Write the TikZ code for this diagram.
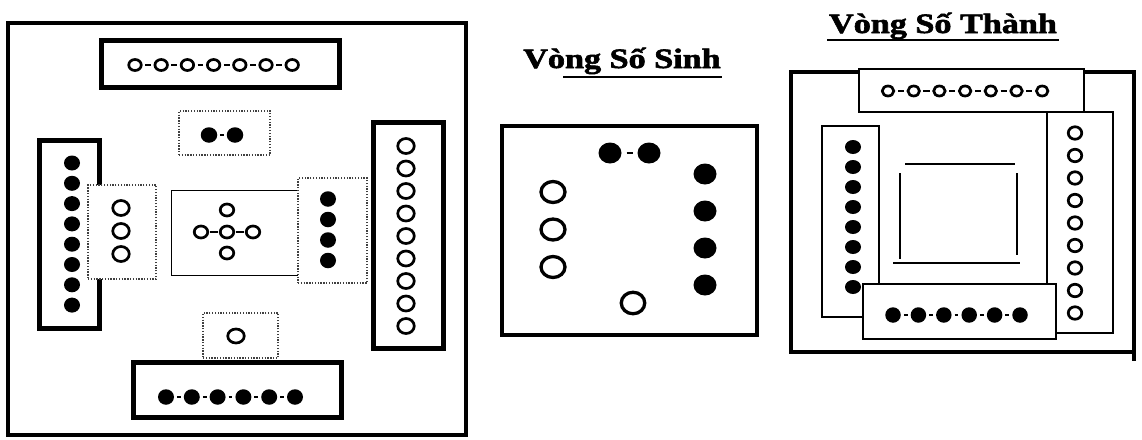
\documentclass[tikz,border=0pt]{standalone}
\usepackage{fontspec}
\usetikzlibrary{shapes.geometric}
\setmainfont{Liberation Serif}
\newfontfamily\heavyfont[BoldFeatures={FakeBold=2}]{Liberation Serif}
\begin{document}
\begin{tikzpicture}[x=1pt,y=-1pt,
  thickbox/.style={draw, line width=5pt, fill=white, inner sep=0pt, outer sep=0pt},
  framebox/.style={draw, line width=4.3pt, inner sep=0pt, outer sep=0pt},
  thinbox/.style={draw, line width=1.4pt, fill=white, inner sep=0pt, outer sep=0pt},
  dotbox/.style={draw=black!75, line width=1.4pt, dash pattern=on 1.3pt off 1.5pt, fill=white, inner sep=0pt, outer sep=0pt},
  ocirc/.style 2 args={ellipse, draw, line width=2.7pt, inner sep=0pt, outer sep=0pt, minimum width=#1, minimum height=#2},
  bcirc/.style 2 args={ellipse, draw, line width=3.3pt, inner sep=0pt, outer sep=0pt, minimum width=#1, minimum height=#2},
  fdot/.style 2 args={ellipse, fill=black, inner sep=0pt, outer sep=0pt, minimum width=#1, minimum height=#2},
  link/.style={line width=1.8pt, shorten <=4.5pt, shorten >=4.5pt},
  ttl/.style={anchor=base, inner sep=0pt, font=\heavyfont\bfseries\fontsize{28}{30}\selectfont},
  uline/.style={line width=2.2pt},
  sketch/.style={line width=1.8pt}]
\useasboundingbox (0,0) rectangle (1142,439);

% ================= LEFT PANEL =================
\node[framebox, minimum width=458, minimum height=412] (frameL) at (237,229) {};
% top box
\node[thickbox, minimum width=238, minimum height=47] (topL) at (220,63.5) {};
\foreach \i in {0,...,6} \node[ocirc={12.5}{11}] (a\i) at ({135+26.2*\i},65) {};
\foreach \i [count=\j from 1] in {0,...,5} \draw[link, shorten <=4pt, shorten >=4pt] (a\i) -- (a\j);
% left tall box
\node[thickbox, minimum width=60, minimum height=188] (leftL) at (69,234) {};
\foreach \i in {0,...,7} \node[fdot={16}{15}] (b\i) at (72,{163+20.3*\i}) {};
% dotted left-middle box
\node[dotbox, minimum width=68, minimum height=94] (dotLeft) at (122,232) {};
\foreach \i in {0,...,2} \node[ocirc={16.5}{15}] (c\i) at (121,{208+23*\i}) {};
% center box
\node[thinbox, line width=1pt, minimum width=127, minimum height=85] (centerL) at (234.5,232.5) {};
\node[ocirc={13.5}{12}] (xc) at (227,232) {};
\node[ocirc={13.5}{12}] (xt) at (227,210) {};
\node[ocirc={13.5}{12}] (xb) at (227,253) {};
\node[ocirc={13.5}{12}] (xl) at (201,232) {};
\node[ocirc={13.5}{12}] (xr) at (253,232) {};
\draw[link, shorten <=2pt, shorten >=2pt] (xl) -- (xc);
\draw[link, shorten <=2pt, shorten >=2pt] (xc) -- (xr);
% dotted right-middle box
\node[dotbox, minimum width=69, minimum height=105] (dotRight) at (332.5,230.5) {};
\foreach \i in {0,...,3} \node[fdot={16}{15.5}] (d\i) at (328,{199+20.5*\i}) {};
% right tall box
\node[thickbox, minimum width=70, minimum height=226] (rightL) at (408,235) {};
\foreach \i in {0,...,8} \node[ocirc={16.5}{15}] (e\i) at (406,{146+22.5*\i}) {};
% dotted top box
\node[dotbox, minimum width=91, minimum height=44] (dotTop) at (224.5,133) {};
\node[fdot={16.5}{15.5}] (f0) at (209,135) {};
\node[fdot={16.5}{15.5}] (f1) at (235,135) {};
\draw[link, shorten <=2.5pt, shorten >=2.5pt] (f0) -- (f1);
% dotted bottom box
\node[dotbox, minimum width=75, minimum height=45] (dotBot) at (240.5,335.5) {};
\node[ocirc={16.5}{14}] (g0) at (236,336) {};
% bottom box
\node[thickbox, minimum width=208, minimum height=55] (botL) at (237,389.5) {};
\foreach \i in {0,...,5} \node[fdot={16}{15.5}] (h\i) at ({166+25.8*\i},397) {};
\foreach \i [count=\j from 1] in {0,...,4} \draw[link, shorten <=3pt, shorten >=3pt] (h\i) -- (h\j);

% ================= MIDDLE PANEL =================
\node[ttl] (titleM) at (622,68) {\scalebox{1.22}[1]{Vòng Số Sinh}};
\coordinate (uMa) at (563,77);
\coordinate (uMb) at (722,77);
\draw[uline] (uMa) -- (uMb);
\node[framebox, fill=white, minimum width=255, minimum height=209] (boxM) at (629.5,230.5) {};
\node[fdot={23}{21}] (m0) at (610,153) {};
\node[fdot={23}{21}] (m1) at (649,153) {};
\draw[link, shorten <=5pt, shorten >=5pt] (m0) -- (m1);
\foreach \i in {0,...,2} \node[bcirc={24}{21}] (n\i) at (553,{192+37.5*\i}) {};
\foreach \i in {0,...,3} \node[fdot={23}{21}] (p\i) at (705,{174+37*\i}) {};
\node[bcirc={23.5}{21.5}] (q0) at (633,303) {};

% ================= RIGHT PANEL =================
\node[ttl] (titleR) at (943,33) {\scalebox{1.22}[1]{Vòng Số Thành}};
\coordinate (uRa) at (827,40);
\coordinate (uRb) at (1059,40);
\draw[uline] (uRa) -- (uRb);
\node[framebox, fill=white, minimum width=343, minimum height=280] (frameR) at (962.5,212) {};
\coordinate (tailA) at (1134,350);
\coordinate (tailB) at (1134,361);
\draw[line width=4.3pt] (tailA) -- (tailB);
% top box
\node[thinbox, minimum width=225, minimum height=43] (topR) at (971.5,90.5) {};
\foreach \i in {0,...,6} \node[ocirc={11.5}{10}] (r\i) at ({888+25.7*\i},91) {};
\foreach \i [count=\j from 1] in {0,...,5} \draw[link, shorten <=4pt, shorten >=4pt] (r\i) -- (r\j);
% right box
\node[thinbox, minimum width=66, minimum height=221] (rightR) at (1080,222.5) {};
\foreach \i in {0,...,8} \node[ocirc={13.5}{12.5}] (s\i) at (1075,{133+22.5*\i}) {};
% left box
\node[thinbox, minimum width=57, minimum height=191] (leftR) at (850.5,221.5) {};
\foreach \i in {0,...,7} \node[fdot={16}{14}] (u\i) at (853,{147+20*\i}) {};
% inner open square
\draw[sketch] (905,164) -- (1015,164);
\draw[sketch] (900,173) -- (900,259);
\draw[sketch] (1017,173) -- (1017,255);
\draw[sketch] (893,263) -- (1020,263);
% bottom box
\node[thinbox, minimum width=193, minimum height=55] (botR) at (959.5,311.5) {};
\foreach \i in {0,...,5} \node[fdot={15.5}{15.5}] (v\i) at ({893+25.4*\i},315) {};
\foreach \i [count=\j from 1] in {0,...,4} \draw[link, shorten <=3pt, shorten >=3pt] (v\i) -- (v\j);
\end{tikzpicture}
\end{document}
